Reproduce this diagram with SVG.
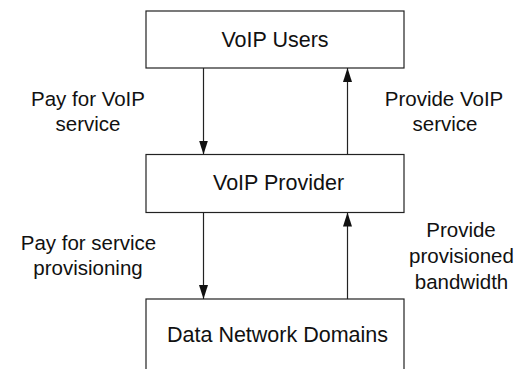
<svg xmlns="http://www.w3.org/2000/svg" width="521" height="369" viewBox="0 0 521 369">
<style>
.box{fill:#fff;stroke:#222;stroke-width:1.2}
.t{font-family:"Liberation Sans",Arial,sans-serif;font-size:21.5px;fill:#111}
.l{font-family:"Liberation Sans",Arial,sans-serif;font-size:20.5px;fill:#111;text-anchor:middle}
.c{stroke:#222;stroke-width:1.2;fill:none;marker-end:url(#ah)}
</style>
<defs>
<marker id="ah" markerUnits="userSpaceOnUse" markerWidth="14" markerHeight="10" refX="14" refY="5" orient="auto" viewBox="0 0 14 10">
<path d="M0,0.5 L14,5 L0,9.5 z" fill="#111"/>
</marker>
</defs>
<rect width="521" height="369" fill="#fff"/>
<g id="users"><rect class="box" x="146" y="11" width="258" height="57"/><text class="t" x="275" y="47" text-anchor="middle">VoIP Users</text></g>
<g id="provider"><rect class="box" x="146" y="154.5" width="258" height="58"/><text class="t" x="213" y="190">VoIP Provider</text></g>
<g id="network"><rect class="box" x="146" y="299" width="258" height="90"/><text class="t" x="167" y="342">Data Network Domains</text></g>
<g id="connectors">
<line class="c" x1="203.5" y1="68" x2="203.5" y2="154.5"/>
<line class="c" x1="347.5" y1="154.5" x2="347.5" y2="68"/>
<line class="c" x1="203.5" y1="212.5" x2="203.5" y2="299"/>
<line class="c" x1="347.5" y1="299" x2="347.5" y2="212.5"/>
</g>
<g id="labels">
<text class="l" x="88" y="106">Pay for VoIP</text>
<text class="l" x="88" y="131">service</text>
<text class="l" x="444" y="106">Provide VoIP</text>
<text class="l" x="445" y="131">service</text>
<text class="l" x="88.5" y="250">Pay for service</text>
<text class="l" x="88" y="275">provisioning</text>
<text class="l" x="461" y="237">Provide</text>
<text class="l" x="461.5" y="263">provisioned</text>
<text class="l" x="461.5" y="288.5">bandwidth</text>
</g>
</svg>
